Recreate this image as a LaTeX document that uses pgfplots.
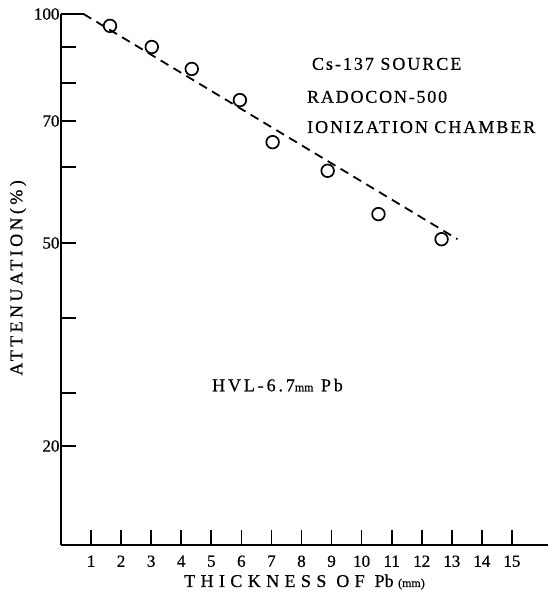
\documentclass[border=0pt]{standalone}
\usepackage{fontspec}
\setmainfont{Liberation Serif}[FakeBold=0.6]
\usepackage{pgfplots}
\pgfplotsset{compat=1.18}
\begin{document}
\begin{tikzpicture}
\useasboundingbox (-61pt,-51pt) rectangle (496pt,545pt);
\begin{axis}[
  scale only axis,
  width=487pt, height=531pt,
  xmin=0, xmax=16.2,
  ymin=1.32, ymax=100,
  y coord trafo/.code={\pgfmathparse{#1<=30 ? 99+(#1-20)*5.3 : (#1<=50 ? 152+(#1-30)*7.5 : (#1<=60 ? 302+(#1-50)*7.6 : (#1<=70 ? 378+(#1-60)*4.6 : (#1<=80 ? 424+(#1-70)*3.8 : (#1<=90 ? 462+(#1-80)*3.6 : 498+(#1-90)*3.3)))))}},
  axis x line*=bottom, axis y line*=left,
  axis line style={line width=1.8pt,-},
  tick align=inside,
  major tick length=15pt,
  tick style={line width=1.7pt,black},
  xtick={1,2,...,15},
  ytick={20,30,40,50,60,70,80,90,100},
  yticklabels={20,,,50,,70,,,100},
  /pgf/number format/assume math mode=true,
  ticklabel style={font=\fontsize{17}{19}\selectfont},
  xticklabel style={yshift=-7pt},
  yticklabel style={xshift=2pt},
  xlabel={\addfontfeature{LetterSpace=30}THICKNESS OF P\addfontfeature{LetterSpace=0}b {\fontsize{12}{13}\selectfont\addfontfeature{LetterSpace=0}(mm)}},
  ylabel={\addfontfeature{LetterSpace=19}ATTENUATION(\%)},
  label style={font=\fontsize{18}{20}\selectfont},
  xlabel style={at={(axis description cs:0.5,-0.0697)}, anchor=center},
  ylabel style={at={(axis description cs:-0.0883,0.503)}, anchor=center},
  clip=false,
]
\addplot[black, line width=1.8pt] coordinates {(0,100) (0.75,100)};
\addplot[black, line width=1.8pt, dash pattern=on 9pt off 6pt] coordinates {(0.75,100) (13.19,50.5)};
\addplot[only marks, mark=o, mark size=6.3pt, mark options={line width=1.7pt, black}] coordinates {
(1.63,96.4) (3.02,90.0) (4.35,83.9) (5.95,75.5) (7.04,65.4) (8.87,59.5) (10.56,53.8) (12.66,50.5)};
\node[anchor=west, inner sep=0pt, font=\fontsize{18}{20}\selectfont\addfontfeature{LetterSpace=11}] at (axis description cs:0.515,0.906) {Cs-137 SOURCE};
\node[anchor=west, inner sep=0pt, font=\fontsize{18}{20}\selectfont\addfontfeature{LetterSpace=10}] at (axis description cs:0.505,0.844) {RADOCON-500};
\node[anchor=west, inner sep=0pt, font=\fontsize{18}{20}\selectfont\addfontfeature{LetterSpace=11}] at (axis description cs:0.505,0.787) {IONIZATION CHAMBER};
\node[anchor=west, inner sep=0pt, font=\fontsize{18}{20}\selectfont\addfontfeature{LetterSpace=16}] at (axis description cs:0.310,0.301) {HVL-6.7{\fontsize{12}{13}\selectfont\addfontfeature{LetterSpace=0}mm} Pb};
\end{axis}
\end{tikzpicture}
\end{document}
